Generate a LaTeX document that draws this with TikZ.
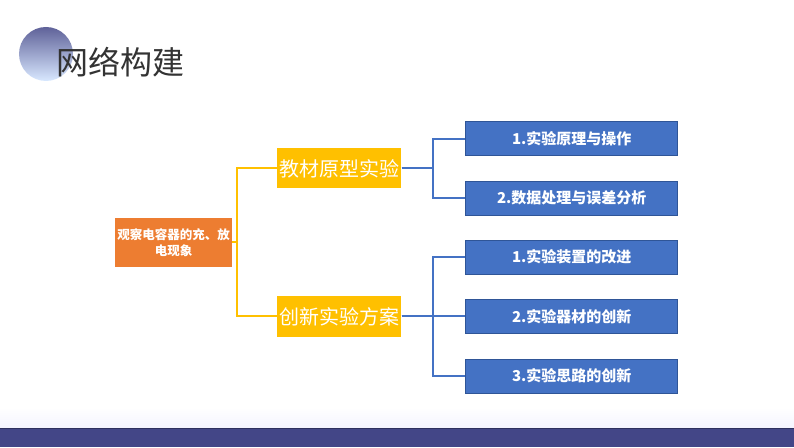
\documentclass[tikz,border=0pt]{standalone}
\usepackage{fontspec}
\setmainfont{Noto Sans CJK SC}
\usepackage{xcolor}
\usepackage{tikz}
\usetikzlibrary{trees}
\definecolor{rootorange}{HTML}{ED7D31}
\definecolor{gold}{HTML}{FFC000}
\definecolor{boxblue}{HTML}{4472C4}
\definecolor{boxedge}{HTML}{2F5597}
\definecolor{barblue}{HTML}{434687}
\definecolor{titlegray}{HTML}{333333}
\tikzstyle{every node}=[anchor=west,inner sep=0pt,align=center,text=white]
\tikzstyle{rootbox}=[fill=rootorange,minimum width=117pt,minimum height=49pt,text width=117pt,font=\fontsize{12.5}{16}\selectfont\bfseries]
\tikzstyle{mainbox}=[fill=gold,minimum width=124pt,minimum height=40pt,font=\fontsize{20}{24}\selectfont]
\tikzstyle{subbox}=[fill=boxblue,draw=boxedge,line width=0.6pt,minimum width=212pt,minimum height=34pt,font=\fontsize{15}{18}\selectfont\bfseries]

\begin{document}
\begin{tikzpicture}[x=1pt,y=1pt,grow'=right,
	level 1/.style={level distance=103.5pt,sibling distance=148pt,
		edge from parent path={(\tikzparentnode.east) -- ++(5pt,0) |- (\tikzchildnode.west)},
		edge from parent/.style={draw=gold,line width=2pt}},
	level 2/.style={level distance=126pt,sibling distance=59.5pt,
		edge from parent path={(\tikzparentnode.east) -- ++(31pt,0) |- (\tikzchildnode.west)},
		edge from parent/.style={draw=boxblue,line width=2pt}}]
		\useasboundingbox (0,0) rectangle (794,447);
		% heading
		\shade[top color=white,bottom color=blue!4] (0,19) rectangle (794,40);
		\fill[barblue] (0,0) rectangle (794,19);
		\draw[barblue!70!black,line width=0.8pt] (0,19) -- (794,19);
		\shade[top color=barblue!85,bottom color=blue!60!cyan!15] (46,393) circle (27);
		\node[text=titlegray,font=\fontsize{32}{36}\selectfont] (title) at (56,385) {网络构建};
		% tree
		\node[rootbox] (root) at (115,204.5) {观察电容器的充、放\\电现象}
		child { node[mainbox] (book) {教材原型实验}
			child { node[subbox] (b1) {1.实验原理与操作}}
			child { node[subbox] (b2) {2.数据处理与误差分析}}
		}
		child { node[mainbox] (novel) {创新实验方案}
			child { node[subbox] (n1) {1.实验装置的改进}}
			child { node[subbox] (n2) {2.实验器材的创新}}
			child { node[subbox] (n3) {3.实验思路的创新}}
		};
		\end{tikzpicture}
\end{document}
